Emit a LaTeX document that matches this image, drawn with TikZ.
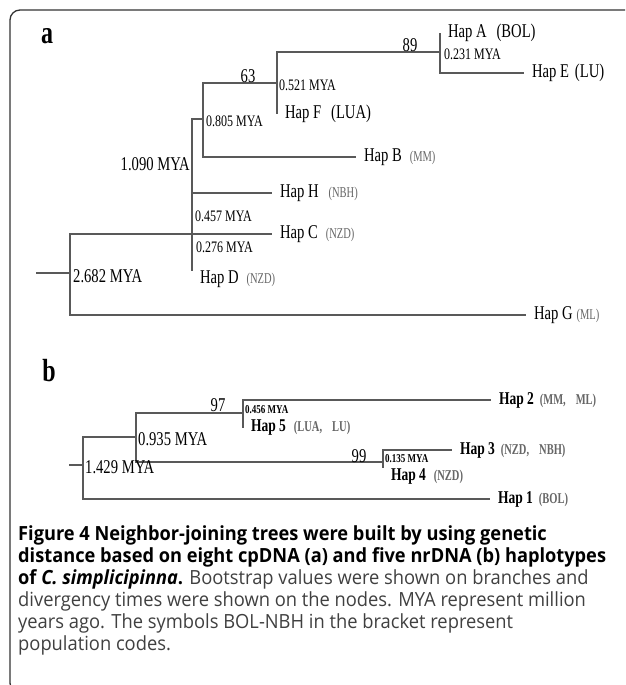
\documentclass[tikz,border=0pt]{standalone}
\usepackage{fontspec}
\setmainfont{Liberation Serif}
\newfontfamily\treefont[FakeStretch=0.75]{Liberation Serif}
\newfontfamily\codefont[FakeStretch=0.7]{Liberation Serif}
\newfontfamily\capfont[FakeStretch=0.94]{Open Sans}
\newfontfamily\capboldfont[FakeStretch=0.935]{Open Sans}
\newcommand{\popcode}[1]{{\codefont\fontsize{15}{16}\selectfont\color{black!60}(#1)}}
\newcommand{\capbold}[1]{{\capboldfont\bfseries\color{black}#1}}

\begin{document}
\begin{tikzpicture}[x=1pt,y=-1pt,
    branch/.style={draw=black!65,line width=1.1pt},
    frame/.style={draw=black!80,line width=1.3pt,rounded corners=10pt},
    leaf/.style={anchor=west,inner sep=0pt,outer xsep=8pt,font=\treefont\fontsize{19.5}{20}\selectfont},
    leafb/.style={leaf,font=\treefont\bfseries\fontsize{18}{19}\selectfont},
    age/.style={anchor=west,inner sep=0pt,font=\treefont\fontsize{19.5}{20}\selectfont},
    agesmall/.style={age,font=\treefont\fontsize{16}{17}\selectfont},
    agetiny/.style={age,font=\treefont\bfseries\fontsize{12}{12}\selectfont},
    boot/.style={inner sep=0pt,font=\treefont\fontsize{19.5}{20}\selectfont},
    panel/.style={inner sep=0pt,font=\treefont\bfseries\fontsize{32}{32}\selectfont}]
    \useasboundingbox (0,0) rectangle (625,685);
    \fill[white] (0,0) rectangle (625,685);
    \draw[frame] (625,10) -- (10,10) -- (10,693) -- (40,693);

    \node[panel] (pa) at (47,36) {a};
    \coordinate (rootA) at (36,273);
    \coordinate (n2682) at (70,273);
    \coordinate (n1090) at (192,234);
    \coordinate (n0805) at (203,119);
    \coordinate (n0521) at (277,83);
    \coordinate (n0231) at (440,52);
    \node[leaf] (hapA) at (440,33) {Hap A\hspace{10pt}(BOL)};
    \node[leaf] (hapE) at (524,73) {Hap E\hspace{6pt}(LU)};
    \node[leaf] (hapF) at (277,114) {Hap F\hspace{10pt}(LUA)};
    \node[leaf] (hapB) at (356,157) {Hap B\hspace{8pt}\popcode{MM}};
    \node[leaf] (hapH) at (272,193) {Hap H\hspace{10pt}\popcode{NBH}};
    \node[leaf] (hapC) at (272,234) {Hap C\hspace{8pt}\popcode{NZD}};
    \node[leaf,anchor=north west] (hapD) at (192,271) {Hap D\hspace{8pt}\popcode{NZD}};
    \node[leaf] (hapG) at (526,315) {Hap G\hspace{4pt}\popcode{ML}};
    \draw[branch] (rootA) -- (n2682);
    \draw[branch] (n2682) |- (n1090);
    \draw[branch] (n2682) |- (hapG.west);
    \draw[branch] (n1090) |- (n0805);
    \draw[branch] (n1090) |- (hapH.west);
    \draw[branch] (n1090) -- (hapC.west);
    \draw[branch] (n1090) -- (hapD.north west);
    \draw[branch] (n0805) |- (n0521);
    \draw[branch] (n0805) |- (hapB.west);
    \draw[branch] (n0521) |- (n0231);
    \draw[branch] (n0521) -- (hapF.west);
    \draw[branch] (n0231) -- (hapA.west);
    \draw[branch] (n0231) |- (hapE.west);
    \node[boot] (b89) at (410,45) {89};
    \node[boot] (b63) at (248,76) {63};
    \node[agesmall] (t0231) at (444,54) {0.231 MYA};
    \node[agesmall] (t0521) at (279,85) {0.521 MYA};
    \node[agesmall] (t0805) at (206,121) {0.805 MYA};
    \node[age,anchor=east] (t1090) at (190,164) {1.090 MYA};
    \node[agesmall] (t0457) at (195,216) {0.457 MYA};
    \node[agesmall] (t0276) at (196,247) {0.276 MYA};
    \node[age] (t2682) at (73,276) {2.682 MYA};

    \node[panel] (pb) at (49,371) {b};
    \coordinate (rootB) at (69,465);
    \coordinate (n1429) at (83,465);
    \coordinate (n0935) at (136,437);
    \coordinate (n0456) at (243,413);
    \coordinate (n0135) at (383,462);
    \node[leafb] (hap2) at (491,400) {Hap 2\hspace{6pt}\popcode{MM,\hspace{10pt}ML}};
    \node[leafb] (hap5) at (243,428) {Hap 5\hspace{8pt}\popcode{LUA,\hspace{10pt}LU}};
    \node[leafb] (hap3) at (452,450) {Hap 3\hspace{6pt}\popcode{NZD,\hspace{10pt}NBH}};
    \node[leafb,anchor=north west] (hap4) at (383,468) {Hap 4\hspace{8pt}\popcode{NZD}};
    \node[leafb] (hap1) at (490,499) {Hap 1\hspace{6pt}\popcode{BOL}};
    \draw[branch] (rootB) -- (n1429);
    \draw[branch] (n1429) |- (n0935);
    \draw[branch] (n1429) |- (hap1.west);
    \draw[branch] (n0935) |- (n0456);
    \draw[branch] (n0935) |- (n0135);
    \draw[branch] (n0456) |- (hap2.west);
    \draw[branch] (n0456) -- (hap5.west);
    \draw[branch] (n0135) |- (hap3.west);
    \draw[branch] (n0135) -- (hap4.north west);
    \node[boot] (b97) at (218,405) {97};
    \node[boot] (b99) at (359,456) {99};
    \node[agetiny] (t0456) at (245,410) {0.456 MYA};
    \node[age] (t0935) at (138,439) {0.935 MYA};
    \node[agetiny] (t0135) at (385,459) {0.135 MYA};
    \node[age] (t1429) at (85,467) {1.429 MYA};

    \node[anchor=north west,inner sep=0pt,align=left,text=black!75,
      font=\capfont\fontsize{19.5}{22}\selectfont] (caption) at (18,525)
      {\capbold{Figure 4 Neighbor-joining trees were built by using genetic}\\
       \capbold{distance based on eight cpDNA (a) and five nrDNA (b) haplotypes}\\
       \capbold{of \textit{C. simplicipinna}.} Bootstrap values were shown on branches and\\
       divergency times were shown on the nodes. MYA represent million\\
       years ago. The symbols BOL-NBH in the bracket represent\\
       population codes.};
\end{tikzpicture}
\end{document}
